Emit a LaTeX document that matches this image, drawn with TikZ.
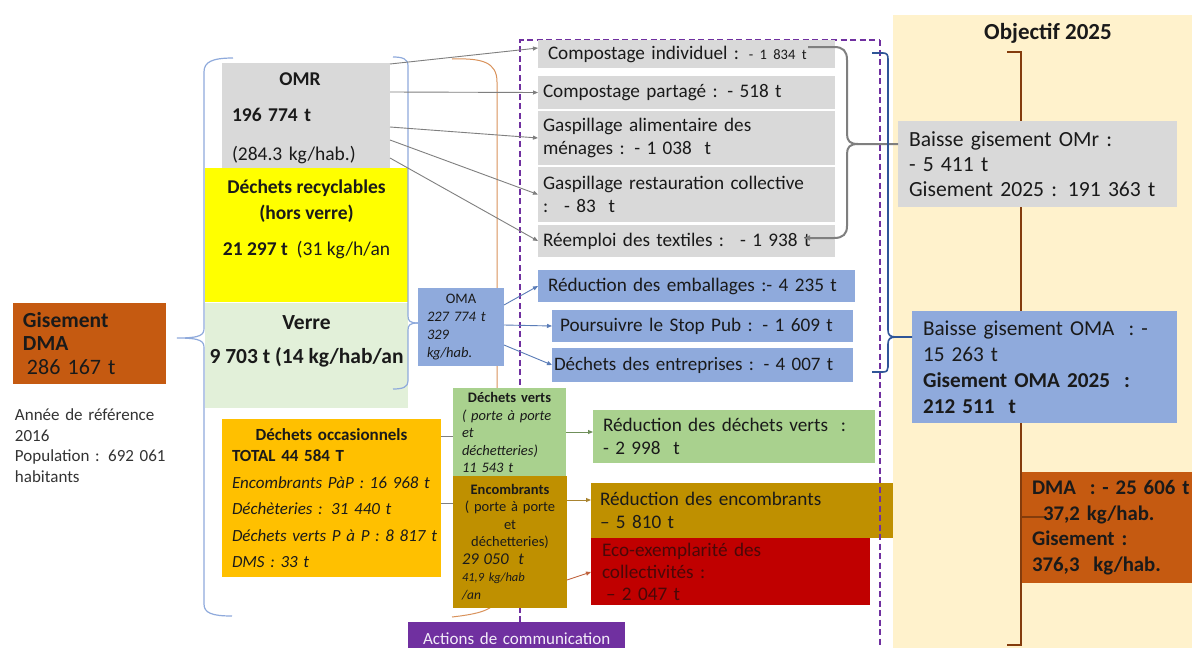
\documentclass[tikz,border=0pt]{standalone}
\usepackage{fontspec}
\setmainfont{Carlito}
\usetikzlibrary{arrows.meta}
\newcommand\fsz[2]{\fontsize{#1pt}{#2pt}\selectfont}
\newcommand\nw{\rightskip=-80pt plus 1fil\relax}
\definecolor{cgrey}{HTML}{D9D9D9}
\definecolor{cblue}{HTML}{8FAADC}
\definecolor{cgreen}{HTML}{A9D18E}
\definecolor{cvgreen}{HTML}{E2F0D9}
\definecolor{cyellow}{HTML}{FFFF00}
\definecolor{corange}{HTML}{FFC000}
\definecolor{cbrown}{HTML}{BF9000}
\definecolor{cred}{HTML}{C00000}
\definecolor{cdma}{HTML}{C55A11}
\definecolor{cpurple}{HTML}{7030A0}
\definecolor{ccream}{HTML}{FFF2CC}
\definecolor{txt}{HTML}{1A1A1A}
\definecolor{ecotxt}{HTML}{4A0808}
\definecolor{acttxt}{HTML}{F2ECF8}
\definecolor{lblue}{HTML}{8FAADC}
\definecolor{dblue}{HTML}{2F5597}
\definecolor{dbrown}{HTML}{843C0C}
\definecolor{lorange}{HTML}{D9925B}
\definecolor{lgrey}{HTML}{7F7F7F}
\definecolor{bline}{HTML}{5B7DB8}
\definecolor{gline}{HTML}{6F8F5A}
\definecolor{yline}{HTML}{A98430}
\definecolor{rline}{HTML}{C0623C}
\begin{document}
\begin{tikzpicture}[x=1pt,y=-1pt,
  box/.style={anchor=north west, inner ysep=0pt, outer sep=0pt, align=left, text=txt},
  arr/.style={-{Triangle[length=5pt,width=4pt]}},
  dashp/.style={cpurple, line width=2.2pt, dash pattern=on 6pt off 3.5pt},
  thinarrow/.style={line width=0.9pt, arr}]
\useasboundingbox (0,0) rectangle (1192,648);
\clip (0,0) rectangle (1192,648);
\fill[white] (0,0) rectangle (1192,648);
\fill[ccream] (893,15) rectangle (1200,660);

% named free ends
\coordinate (bbt) at (1007,52);
\coordinate (bbb) at (1007,645);
\coordinate (ort) at (452,59);
\coordinate (orb) at (452,617);
\coordinate (lbt) at (233,58);
\coordinate (lbb) at (232,616);
\coordinate (lbtip) at (177,338);
\coordinate (rbt) at (393,57);
\coordinate (rbb) at (393,389);
\coordinate (gbt) at (808,47);
\coordinate (gbb) at (804,238);
\coordinate (dbt) at (872,53);
\coordinate (dbb) at (872,372);

\node[font=\bfseries\fsz{23}{27}, text=txt, inner sep=0pt] (obj) at (1048,33) {Objectif 2025};

% background lines
\draw[dashp] (520,660) -- (520,40) -- (880,40);
\draw[dbrown, line width=2pt] (bbt) -- (1021,52) -- (1021,645) -- (bbb);
\draw[lorange, line width=1pt] (ort) .. controls (482,58) and (497,62) .. (497,82) -- (497,596) .. controls (497,610) and (478,614) .. (orb);

% left part
\node[box, fill=cdma, minimum width=153pt, minimum height=81pt, inner xsep=10pt, text width=133pt, font=\fsz{21.5}{23.5}] (gdma) at (13,303) {\nw\textbf{Gisement}\\\textbf{DMA}\\\hspace*{4pt}{\fsz{22}{23.5}286 167 t}};
\node[box, inner xsep=0pt, text width=180pt, font=\fsz{17}{20.5}, text=black!80] (annee) at (15,409) {\nw Année de référence\\2016\\Population : 692 061\\habitants};

\node[box, fill=cgrey, minimum width=168pt, minimum height=105pt] (omr) at (222,63) {};
\node[box, inner xsep=0pt, text width=148pt, font=\fsz{19.5}{24}] (omrT) at ([xshift=10pt,yshift=-10pt]omr.north west) {\nw\makebox[136pt]{\textbf{OMR}}\\[12pt]\textbf{196 774 t}\\[15pt](284.3 kg/hab.)};
\node[box, fill=cyellow, minimum width=203pt, minimum height=134pt] (rec) at (205,168) {};
\node[anchor=north, inner sep=0pt, align=center, text=txt, font=\fsz{19.5}{26}] (recT) at ([yshift=-12pt]rec.north) {\textbf{Déchets recyclables}\\\textbf{(hors verre)}\\[10pt]\textbf{21 297 t}~ (31 kg/h/an};
\node[box, fill=cvgreen, minimum width=203pt, minimum height=105pt] (verre) at (205,303) {};
\node[anchor=north, inner sep=0pt, align=center, text=txt, font=\bfseries\fsz{21.5}{34}] (verreT) at ([yshift=-12pt]verre.north) {Verre\\9 703 t (14 kg/hab/an};
\node[box, fill=cblue, minimum width=86pt, minimum height=78pt, inner xsep=9pt, text width=68pt, font=\fsz{14.5}{18}] (oma) at (418,288) {\nw\makebox[68pt]{OMA}\\\textit{227 774 t}\\\textit{329}\\\textit{kg/hab.}};

\node[box, fill=corange, minimum width=219pt, minimum height=158pt, inner xsep=10pt, text width=199pt, font=\fsz{17}{26.5}] (occ) at (222,419) {\nw\makebox[199pt]{\textbf{Déchets occasionnels}}\\[-5pt]\textbf{TOTAL 44 584 T}\\\textit{Encombrants PàP : 16 968 t}\\\textit{Déchèteries : 31 440 t}\\\textit{Déchets verts P à P : 8 817 t}\\\textit{DMS : 33 t}};
\node[box, fill=cgreen, minimum width=113pt, minimum height=89pt, inner xsep=9pt, text width=95pt, font=\fsz{14.5}{17.5}] (dv) at (453,388) {\nw\makebox[95pt]{\textbf{Déchets verts}}\\\textit{( porte à porte}\\\textit{et}\\\textit{déchetteries)}\\\textit{11 543 t}};
\node[box, fill=cbrown, minimum width=114pt, minimum height=132pt, inner xsep=9pt, text width=96pt, font=\fsz{14.5}{17.5}] (enc) at (453,476) {\nw\makebox[96pt]{\textbf{Encombrants}}\\\makebox[96pt]{( porte à porte}\\\makebox[96pt]{et}\\\makebox[96pt]{déchetteries)}\\{\fsz{16.5}{17.5}\itshape 29 050~ t}\\{\fsz{12.5}{17.5}\itshape 41,9 kg/hab}\\{\fsz{13.5}{17.5}\itshape /an}};
\node[fill=cpurple, anchor=north west, minimum width=217pt, minimum height=32pt, inner xsep=8.5pt, inner ysep=0pt, text width=200pt, align=center, text=acttxt, font=\fsz{17}{20}] (act) at (408,622) {Actions de communication};

% actions
\node[box, fill=cgrey, minimum width=297pt, minimum height=28pt, inner xsep=10pt, text width=277pt, font=\fsz{19.2}{24}] (ci) at (538,40) {\nw Compostage individuel : {\fsz{14.5}{18}- 1 834 t}};
\node[box, fill=cgrey, minimum width=297pt, minimum height=33pt, inner xsep=5pt, text width=287pt, font=\fsz{19.2}{24}] (cp) at (538,76) {\nw Compostage partagé : - 518 t};
\node[box, fill=cgrey, minimum width=297pt, minimum height=54pt, inner xsep=5pt, text width=287pt, font=\fsz{19.2}{23}] (ga) at (538,111) {\nw Gaspillage alimentaire des\\ménages : - 1 038~ t};
\node[box, fill=cgrey, minimum width=297pt, minimum height=55pt, inner xsep=5pt, text width=287pt, font=\fsz{19.2}{23}] (gr) at (538,167) {\nw Gaspillage restauration collective\\:~ - 83~ t};
\node[box, fill=cgrey, minimum width=297pt, minimum height=32pt, inner xsep=5pt, text width=287pt, font=\fsz{19.2}{24}] (re) at (538,225) {\nw Réemploi des textiles :~ - 1 938 t};

\node[box, fill=cblue, minimum width=317pt, minimum height=32pt, inner xsep=10pt, text width=297pt, font=\fsz{19.2}{24}] (remb) at (538,270) {\nw Réduction des emballages :- 4 235 t};
\node[box, fill=cblue, minimum width=301pt, minimum height=32pt, inner xsep=8pt, text width=285pt, font=\fsz{19.2}{24}] (stop) at (552,310) {\nw Poursuivre le Stop Pub : - 1 609 t};
\node[box, fill=cblue, minimum width=301pt, minimum height=34pt, inner xsep=2pt, text width=297pt, font=\fsz{19}{24}] (dent) at (552,348) {\nw Déchets des entreprises : - 4 007 t};

\node[box, fill=cgreen, minimum width=282pt, minimum height=53pt, inner xsep=10pt, text width=262pt, font=\fsz{19.2}{23}] (rdv) at (593,410) {\nw Réduction des déchets verts~ :\\- 2 998~ t};
\node[box, fill=cred, minimum width=279pt, minimum height=67pt, inner xsep=11pt, text width=257pt, font=\fsz{19.2}{22}, text=ecotxt] (eco) at (591,538) {\nw Eco-exemplarité des\\collectivités :\\\hspace*{4pt}– 2 047 t};
\node[box, fill=cbrown, minimum width=302pt, minimum height=55pt, inner xsep=9pt, text width=284pt, font=\fsz{19.2}{23}] (renc) at (591,483) {\nw Réduction des encombrants\\– 5 810 t};

% objectives
\node[box, fill=cgrey, minimum width=279pt, minimum height=86pt, inner xsep=11pt, text width=257pt, font=\fsz{21.6}{25}] (bomr) at (898,121) {\nw Baisse gisement OMr :\\- 5 411 t\\Gisement 2025 : 191 363 t};
\node[box, fill=cblue, minimum width=265pt, minimum height=112pt, inner xsep=11pt, text width=243pt, font=\fsz{21.2}{26}] (boma) at (912,311) {\nw Baisse gisement OMA~ : -\\15 263 t\\\textbf{Gisement OMA 2025~ :}\\\textbf{212 511~ t}};
\node[box, fill=cdma, minimum width=180pt, minimum height=111pt, inner xsep=10pt, text width=160pt, font=\bfseries\fsz{20.8}{25.5}] (dmab) at (1022,472) {\nw DMA~ : - 25 606 t\\\hspace*{11pt}37,2 kg/hab.\\Gisement :\\376,3~ kg/hab.};

% foreground lines
\draw[dashp] (880,40) -- (880,660);

\draw[lblue, line width=1.2pt] (lbt) .. controls (212,58) and (204,62) .. (204,72) -- (204,328) .. controls (204,335) and (201,338) .. (lbtip) .. controls (201,338) and (204,341) .. (204,348) -- (204,604) .. controls (204,613) and (212,616) .. (lbb);
\draw[lblue, line width=1.2pt] (rbt) .. controls (403,57) and (408,59) .. (408,66) -- (408,316) .. controls (408,321) and (410,323) .. ([yshift=4pt]oma.west);
\draw[lblue, line width=1.2pt] ([yshift=4pt]oma.west) .. controls (410,323) and (408,325) .. (408,330) -- (408,381) .. controls (408,387) and (403,389) .. (rbb);

\draw[lgrey, thinarrow] ([yshift=-1pt]omr.north east) -- ([yshift=6pt]ci.west);
\draw[lgrey, thinarrow] ([yshift=-29pt]omr.north east) -- (cp.west);
\draw[lgrey, thinarrow] ([yshift=-64pt]omr.north east) -- (ga.west);
\draw[lgrey, thinarrow] ([yshift=-77pt]omr.north east) -- (gr.west);
\draw[lgrey, thinarrow] ([yshift=-95pt]omr.north east) -- (re.west);

\draw[bline, thinarrow] ([yshift=-17pt]oma.north east) -- (remb.west);
\draw[bline, thinarrow] ([yshift=-37pt]oma.north east) -- (stop.west);
\draw[bline, thinarrow] ([yshift=-57pt]oma.north east) -- (dent.west);

\draw[lgrey, line width=0.9pt] ([yshift=-17pt]occ.north east) -- ([yshift=-48pt]dv.north west);
\draw[lgrey, line width=0.9pt] ([yshift=-84pt]occ.north east) -- ([yshift=-27pt]enc.north west);
\draw[gline, thinarrow] ([yshift=-44pt]dv.north east) -- ([yshift=-22pt]rdv.north west);
\draw[yline, thinarrow] ([yshift=-24pt]enc.north east) -- ([yshift=-17pt]renc.north west);
\draw[rline, thinarrow] ([yshift=-104pt]enc.north east) -- ([yshift=-34pt]eco.north west);

\draw[lgrey, line width=2pt] (gbt) -- (834,47) .. controls (843,47) and (847,51) .. (847,60) -- (847,134) .. controls (847,141) and (850,144) .. (858,144) -- ([yshift=20pt]bomr.west);
\draw[lgrey, line width=2pt, -{Triangle[length=6pt,width=5pt]}] (858,144) .. controls (850,144) and (847,147) .. (847,154) -- (847,226) .. controls (847,234) and (843,238) .. (834,238) -- (gbb);

\draw[dblue, line width=1.6pt] (dbt) -- (883,53) .. controls (887,53) and (888,55) .. (888,59) -- (888,330) .. controls (888,335) and (890,337) .. (896,337) -- ([yshift=30pt]boma.west);
\draw[dblue, line width=1.6pt] (896,337) .. controls (890,337) and (888,339) .. (888,344) -- (888,367) .. controls (888,370) and (887,372) .. (883,372) -- (dbb);

\draw[dbrown, line width=2pt] (1021,517) -- ([xshift=22pt,yshift=10.5pt]dmab.west);
\end{tikzpicture}
\end{document}
